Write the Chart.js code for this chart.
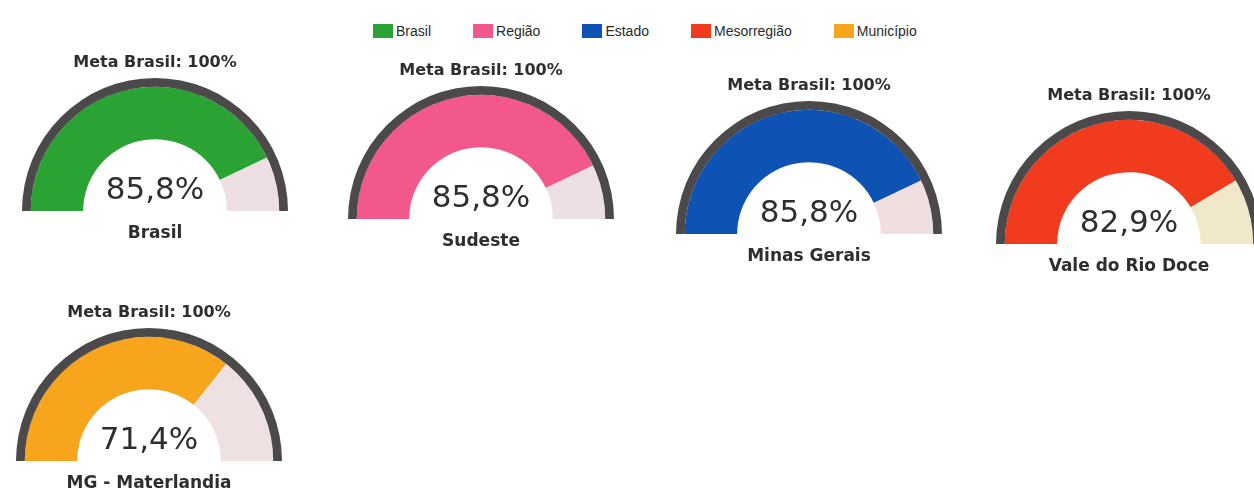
<!DOCTYPE html>
<html lang="pt-BR">
<head>
<meta charset="utf-8">
<title>Meta Brasil</title>
<script src="https://cdn.jsdelivr.net/npm/chart.js@4.4.1/dist/chart.umd.min.js"></script>
<style>
  html, body { margin: 0; padding: 0; background: #fff; }
  body { width: 1254px; height: 489px; position: relative; overflow: hidden; font-family: "DejaVu Sans", sans-serif; }
  .gauge { position: absolute; width: 300px; height: 191px; }
  #legenda { position: absolute; left: 373px; top: 23px; display: flex; align-items: center;
             font: 14px "Liberation Sans", Arial, sans-serif; color: #2a2a2a; }
  #legenda .item { display: flex; align-items: center; margin-right: 42px; }
  #legenda i { display: inline-block; width: 20px; height: 14px; margin-right: 3px; }
</style>
</head>
<body>
<div id="legenda"></div>
<div id="gauges"></div>
<script>
// dados
const categorias = ['Brasil', 'Região', 'Estado', 'Mesorregião', 'Município'];
const locais = ['Brasil', 'Sudeste', 'Minas Gerais', 'Vale do Rio Doce', 'MG - Materlandia'];
const valores = [85.8, 85.8, 85.8, 82.9, 71.4];
const metas = [100, 100, 100, 100, 100];

// estilo
const cores = ['#2ba334', '#f2588b', '#0e52b3', '#f03b1f', '#f6a51d'];
const coresResto = ['#eee0e2', '#eee0e2', '#efdfe1', '#f0e8c8', '#efe0e2'];
const corAnel = '#4b494a';
const corTexto = '#2e2e2e';
// centro (x) e base (y) de cada semicírculo
const posicoes = [
    { cx: 155, base: 210 },
    { cx: 481, base: 218 },
    { cx: 809, base: 233 },
    { cx: 1129, base: 243 },
    { cx: 149, base: 460 }
];

/* ---- legenda ---- */
const legenda = document.getElementById('legenda');
categorias.forEach((nome, i) => {
    const item = document.createElement('span');
    item.className = 'item';
    item.innerHTML = `<i style="background:${cores[i]}"></i>${nome}`;
    legenda.appendChild(item);
});

/* ---- texto do valor no centro ---- */
const textoCentral = {
    id: 'textoCentral',
    afterDatasetsDraw(chart, args, opts) {
        const arco = chart.getDatasetMeta(0).data[0];
        if (!arco) return;
        const ctx = chart.ctx;
        ctx.save();
        ctx.font = '31px "DejaVu Sans"';
        ctx.fillStyle = corTexto;
        ctx.textAlign = 'center';
        ctx.textBaseline = 'middle';
        ctx.fillText(opts.texto, arco.x, arco.y - 20);
        ctx.restore();
    }
};

const fmt = v => v.toFixed(1).replace('.', ',') + '%';

const raiz = document.getElementById('gauges');
locais.forEach((local, i) => {
    const box = document.createElement('div');
    box.className = 'gauge';
    box.style.left = (posicoes[i].cx - 150) + 'px';
    box.style.top = (posicoes[i].base - 157) + 'px';
    const canvas = document.createElement('canvas');
    box.appendChild(canvas);
    raiz.appendChild(box);

    new Chart(canvas, {
        type: 'doughnut',
        data: {
            labels: [local, 'Restante'],
            datasets: [
                { data: [metas[i]], backgroundColor: corAnel, borderWidth: 0, weight: 1 },
                {
                    data: [valores[i], metas[i] - valores[i]],
                    backgroundColor: [cores[i], coresResto[i]],
                    borderWidth: 0,
                    weight: 6
                }
            ]
        },
        options: {
            responsive: true,
            maintainAspectRatio: false,
            animation: false,
            events: [],
            rotation: -90,
            circumference: 180,
            cutout: '54%',
            layout: { padding: 0 },
            plugins: {
                legend: { display: false },
                tooltip: { enabled: false },
                title: {
                    display: true,
                    text: `Meta Brasil: ${metas[i]}%`,
                    color: corTexto,
                    font: { family: 'DejaVu Sans', size: 16, weight: 'bold', lineHeight: '20px' },
                    padding: { top: 0, bottom: 5 }
                },
                subtitle: {
                    display: true,
                    position: 'bottom',
                    text: local,
                    color: corTexto,
                    font: { family: 'DejaVu Sans', size: 17, weight: 'bold', lineHeight: '20px' },
                    padding: { top: 13, bottom: 0 }
                },
                textoCentral: { texto: fmt(valores[i]) }
            }
        },
        plugins: [textoCentral]
    });
});
</script>
</body>
</html>
